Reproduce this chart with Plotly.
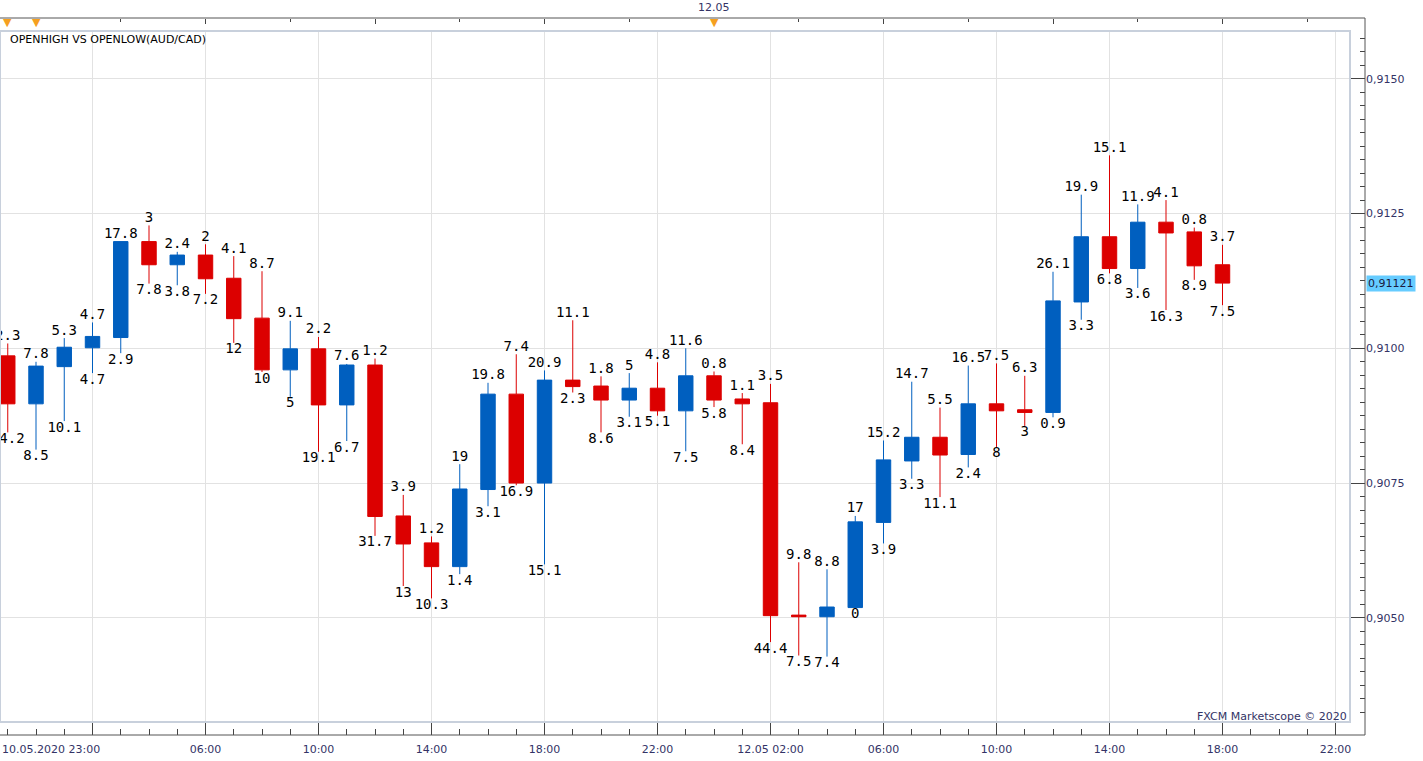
import pandas as pd
import plotly.graph_objects as go

# ---------------- data (AUD/CAD hourly, 10.05.2020 23:00 -> 12.05.2020 18:00) ----------------
times = pd.date_range("2020-05-10 23:00", periods=44, freq="h")

opens = [0.90986, 0.90897, 0.90966, 0.91001, 0.91020, 0.91198, 0.91155, 0.91173, 0.91130, 0.91056,
         0.90960, 0.90999, 0.90895, 0.90969, 0.90689, 0.90639, 0.90595, 0.90738, 0.90915, 0.90750,
         0.90941, 0.90930, 0.90904, 0.90926, 0.90884, 0.90949, 0.90906, 0.90899, 0.90505, 0.90502,
         0.90519, 0.90677, 0.90791, 0.90835, 0.90803, 0.90897, 0.90886, 0.90881, 0.91086, 0.91207,
         0.91148, 0.91234, 0.91216, 0.91155]
closes = [0.90897, 0.90967, 0.91002, 0.91022, 0.91198, 0.91155, 0.91173, 0.91129, 0.91055, 0.90960,
          0.90999, 0.90895, 0.90969, 0.90688, 0.90637, 0.90595, 0.90739, 0.90915, 0.90750, 0.90941,
          0.90929, 0.90904, 0.90926, 0.90884, 0.90949, 0.90904, 0.90897, 0.90504, 0.90502, 0.90520,
          0.90678, 0.90793, 0.90835, 0.90802, 0.90897, 0.90884, 0.90881, 0.91088, 0.91207, 0.91148,
          0.91234, 0.91214, 0.91153, 0.91121]
# open -> high and open -> low distances in pips (labels of the chart)
open_high = [2.3, 7.8, 5.3, 4.7, 17.8, 3, 2.4, 2, 4.1, 8.7, 9.1, 2.2, 7.6, 1.2, 3.9, 1.2, 19, 19.8,
             7.4, 20.9, 11.1, 1.8, 5, 4.8, 11.6, 0.8, 1.1, 3.5, 9.8, 8.8, 17, 15.2, 14.7, 5.5, 16.5,
             7.5, 6.3, 26.1, 19.9, 15.1, 11.9, 4.1, 0.8, 3.7]
open_low = [14.2, 8.5, 10.1, 4.7, 2.9, 7.8, 3.8, 7.2, 12, 10, 5, 19.1, 6.7, 31.7, 13, 10.3, 1.4, 3.1,
            16.9, 15.1, 2.3, 8.6, 3.1, 5.1, 7.5, 5.8, 8.4, 44.4, 7.5, 7.4, 0, 3.9, 3.3, 11.1, 2.4,
            8, 3, 0.9, 3.3, 6.8, 3.6, 16.3, 8.9, 7.5]

major_ticks = pd.date_range("2020-05-11 02:00", periods=12, freq="4h")
major_text = ["", "06:00", "10:00", "14:00", "18:00", "22:00",
              "12.05 02:00", "06:00", "10:00", "14:00", "18:00", "22:00"]
day_markers = ["2020-05-10 23:00", "2020-05-11 00:00", "2020-05-12 00:00"]

PIP = 0.0001
highs = [o + u * PIP for o, u in zip(opens, open_high)]
lows = [o - d * PIP for o, d in zip(opens, open_low)]


def fmt(v):
    return f"{v:g}"


BLUE = "#005FBF"
RED = "#DC0000"
AXC = "#333366"
W, H = 1423, 761
XD = 1350 / W           # right edge of plot panel
YD0, YD1 = (H - 722) / H, (H - 31) / H
XAX_POS = (H - 735) / H
YAX_POS = 1365 / W
TOP_POS = (H - 18) / H

fig = go.Figure()
fig.add_trace(go.Candlestick(
    x=times, open=opens, high=highs, low=lows, close=closes,
    increasing=dict(line=dict(color=BLUE, width=1), fillcolor=BLUE),
    decreasing=dict(line=dict(color=RED, width=1), fillcolor=RED),
    whiskerwidth=0, showlegend=False, hoverinfo="x+y",
))
label_font = dict(family="DejaVu Sans Mono", size=14, color="black")
fig.add_trace(go.Scatter(
    x=times, y=highs, mode="text", text=[fmt(v) for v in open_high],
    textposition="top center", textfont=label_font, cliponaxis=False,
    showlegend=False, hoverinfo="skip"))
fig.add_trace(go.Scatter(
    x=times, y=lows, mode="text", text=[fmt(v) for v in open_low],
    textposition="bottom center", textfont=label_font, cliponaxis=False,
    showlegend=False, hoverinfo="skip"))
# invisible trace so the top time axis is drawn
fig.add_trace(go.Scatter(x=[times[0]], y=[opens[0]], xaxis="x2", mode="markers",
                         marker=dict(opacity=0), showlegend=False, hoverinfo="skip"))

xrange = ["2020-05-10 22:43:32", "2020-05-12 22:30:46"]
tick_font = dict(family="DejaVu Sans", size=11, color=AXC)

fig.update_layout(
    width=W, height=H, margin=dict(l=0, r=0, t=0, b=0),
    paper_bgcolor="white", plot_bgcolor="white",
    separators=", ", boxgap=0.27, showlegend=False,
    xaxis=dict(
        domain=[0, XD], range=xrange, type="date", rangeslider=dict(visible=False),
        anchor="free", position=XAX_POS, side="bottom",
        tickmode="array", tickvals=major_ticks, ticktext=major_text,
        ticks="inside", ticklen=13, tickcolor="#444", tickwidth=1,
        tickfont=tick_font, ticklabelstandoff=6,
        showgrid=True, gridcolor="#e2e2e2", gridwidth=1,
        showline=False, zeroline=False,
        minor=dict(tick0="2020-05-10 22:00", dtick=3600000, ticks="inside",
                   ticklen=6, tickcolor="#444", showgrid=False),
    ),
    xaxis2=dict(
        overlaying="x", matches="x", type="date", anchor="free", position=TOP_POS,
        side="top", tickmode="linear", tick0="2020-05-11 00:00", dtick=21600000,
        ticks="inside", ticklen=5, tickcolor="#444", showticklabels=False,
        showgrid=False, showline=False, zeroline=False,
        minor=dict(tick0="2020-05-11 03:00", dtick=21600000, ticks="inside",
                   ticklen=3, tickcolor="#444", showgrid=False),
    ),
    yaxis=dict(
        domain=[YD0, YD1], range=[0.903067, 0.915887],
        anchor="free", position=YAX_POS, side="right",
        tickmode="linear", tick0=0.905, dtick=0.0025, tickformat=".4f",
        ticks="inside", ticklen=14, tickcolor="#444", tickfont=tick_font,
        showgrid=True, gridcolor="#e2e2e2", gridwidth=1,
        showline=False, zeroline=False,
        minor=dict(dtick=0.00025, ticks="inside", ticklen=5, tickcolor="#444", showgrid=False),
    ),
    shapes=[
        dict(type="rect", xref="paper", yref="paper", x0=0, x1=XD, y0=YD0, y1=YD1,
             line=dict(color="#c8d0dc", width=2), layer="above"),
        dict(type="line", xref="paper", yref="paper", x0=0, x1=YAX_POS, y0=TOP_POS, y1=TOP_POS,
             line=dict(color="#555555", width=1)),
        dict(type="line", xref="paper", yref="paper", x0=0, x1=YAX_POS, y0=XAX_POS, y1=XAX_POS,
             line=dict(color="#555555", width=1)),
        dict(type="line", xref="paper", yref="paper", x0=YAX_POS, x1=YAX_POS, y0=XAX_POS, y1=TOP_POS,
             line=dict(color="#555555", width=1)),
    ],
)

annotations = [
    dict(text="OPENHIGH VS OPENLOW(AUD/CAD)", xref="paper", yref="paper",
         x=8 / W, y=(H - 39) / H, xanchor="left", yanchor="middle", showarrow=False,
         font=dict(family="DejaVu Sans", size=11, color="black")),
    dict(text="FXCM Marketscope © 2020", xref="paper", yref="paper",
         x=1349 / W, y=(H - 716) / H, xanchor="right", yanchor="middle", showarrow=False,
         font=dict(family="DejaVu Sans", size=11, color=AXC)),
    dict(text="12.05", xref="x", yref="paper", x="2020-05-12 00:00", y=(H - 8) / H,
         xanchor="center", yanchor="middle", showarrow=False, font=tick_font),
    dict(text="10.05.2020 23:00", xref="paper", yref="paper", x=0, y=(H - 749) / H,
         xanchor="left", yanchor="middle", showarrow=False, font=tick_font),
    dict(text=f"{closes[-1]:.5f}".replace(".", ","), xref="paper", yref="y",
         x=1366 / W, y=closes[-1], xanchor="left", yanchor="middle", showarrow=False,
         bgcolor="#66ccff", borderpad=1, font=dict(family="DejaVu Sans", size=11, color="#1a1a40")),
]
for t in day_markers:
    annotations.append(dict(text="▼", xref="x", yref="paper", x=t, y=(H - 23) / H,
                            xanchor="center", yanchor="middle", showarrow=False,
                            font=dict(family="DejaVu Sans", size=11, color="#F5A020")))
fig.update_layout(annotations=annotations)

fig.write_html("out.html")
